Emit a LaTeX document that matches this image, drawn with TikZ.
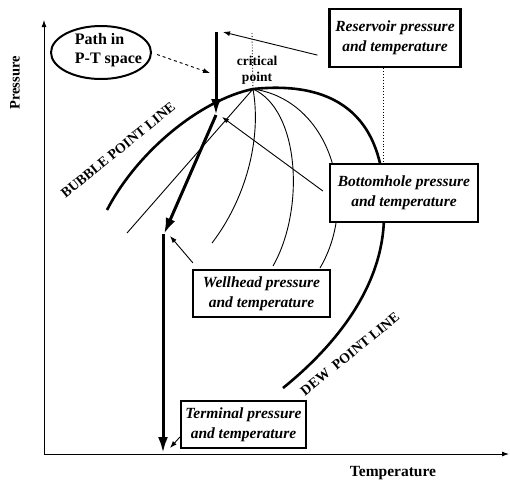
\documentclass[tikz,border=0pt]{standalone}
\usepackage{fontspec}
\setmainfont{Liberation Serif}
\usetikzlibrary{arrows.meta,positioning,shapes.geometric}

\begin{document}
\begin{tikzpicture}[x=1pt, y=-1pt,
    box/.style = {draw, line width=2.2pt, fill=white, align=center, inner sep=0pt,
        font=\fontsize{15.5}{20}\selectfont\bfseries\itshape},
    envelope/.style = {line width=2.6pt},
    quality/.style = {line width=0.9pt},
    flow/.style = {line width=3pt, -{Latex[length=16pt,width=10pt]}},
    pointer/.style = {line width=0.9pt, -{Latex[length=7pt,width=5pt]}},
    lbl/.style = {inner sep=0pt, font=\fontsize{14}{16}\selectfont\bfseries}]
    \useasboundingbox (0,0) rectangle (510,483);
    % points
    \coordinate (O) at (44,454);
    \coordinate (ptop) at (44,20);
    \coordinate (tright) at (509,454);
    \coordinate (cp) at (253,89);
    \coordinate (cptop) at (252,33);
    \coordinate (resP) at (216,32);
    \coordinate (bhP) at (216,115);
    \coordinate (whP) at (164,234);
    \coordinate (termP) at (163,453);
    \coordinate (ptspace) at (210,73);
    % axes
    \draw[pointer] (O) -- (ptop);
    \draw[pointer] (O) -- (tright);
    \node[lbl, rotate=90, font=\fontsize{14.5}{16}\selectfont\bfseries] (plabel) at (15,83) {Pressure};
    \node[lbl, font=\fontsize{15.5}{18}\selectfont\bfseries] (tlabel) at (393,473) {Temperature};
    % phase envelope
    \draw[envelope] (107,210) .. controls (137,152) and (200,100) .. (cp)
        .. controls (340,80) and (388,120) .. (384,215)
        .. controls (384,290) and (330,350) .. (283,388);
    \draw[quality] (cp) -- (127,233);
    \draw[quality] (cp) .. controls (262,140) and (245,200) .. (212,243);
    \draw[quality] (cp) .. controls (300,110) and (305,210) .. (273,266);
    \draw[quality] (cp) .. controls (330,100) and (360,200) .. (320,268);
    \draw[quality, dotted] (cptop) -- (cp);
    \node[lbl, font=\fontsize{13.5}{16}\selectfont\bfseries, align=center, above=4pt of cp, xshift=4pt] (cplabel) {critical\\point};
    \node[lbl, rotate=39] (bubble) at (118,150) {BUBBLE POINT LINE};
    \node[lbl, rotate=39] (dew) at (350,354) {DEW\ \ POINT LINE};
    % boxes
    \node[box, minimum width=131pt, minimum height=58pt] (resbox) at (395,38) {Reservoir pressure\\and temperature};
    \node[box, minimum width=148pt, minimum height=58pt] (bhbox) at (404,193) {Bottomhole pressure\\and temperature};
    \node[box, minimum width=137pt, minimum height=47pt] (whbox) at (261.5,293.5) {Wellhead pressure\\and temperature};
    \node[box, minimum width=125pt, minimum height=47pt] (termbox) at (243.5,424.5) {Terminal pressure\\and temperature};
    \draw[quality, dotted] ([xshift=-12pt]resbox.south) -- ([xshift=-12pt]resbox.south |- bhbox.north);
    \node[draw, ellipse, line width=2pt, minimum width=100pt, minimum height=53pt] (pathnode) at (101,52.5) {};
    \node[lbl, font=\fontsize{16}{19}\selectfont\bfseries, align=left] (pathtext) at (108.5,50) {Path in\\P-T space};
    % path in P-T space
    \draw[flow] (resP) -- (bhP);
    \draw[flow] (bhP) -- (whP);
    \draw[flow] ([xshift=-1pt]whP) -- (termP);
    % pointers
    \draw[pointer, dashed] (pathnode.east) ++(5pt,-2pt) -- (ptspace);
    \draw[pointer] ([xshift=-11pt,yshift=13pt]resbox.south west) -- ([xshift=7pt]resP);
    \draw[pointer] ([xshift=-6pt,yshift=2pt]bhbox.west) -- ([xshift=6pt,yshift=-2pt]bhP);
    \draw[pointer] ([xshift=1pt,yshift=6pt]whbox.north west) -- ([xshift=6pt,yshift=-2pt]whP);
    \draw[pointer] ([yshift=-12.5pt]termbox.west) -- ([xshift=7pt,yshift=5pt]termP);
\end{tikzpicture}
\end{document}
